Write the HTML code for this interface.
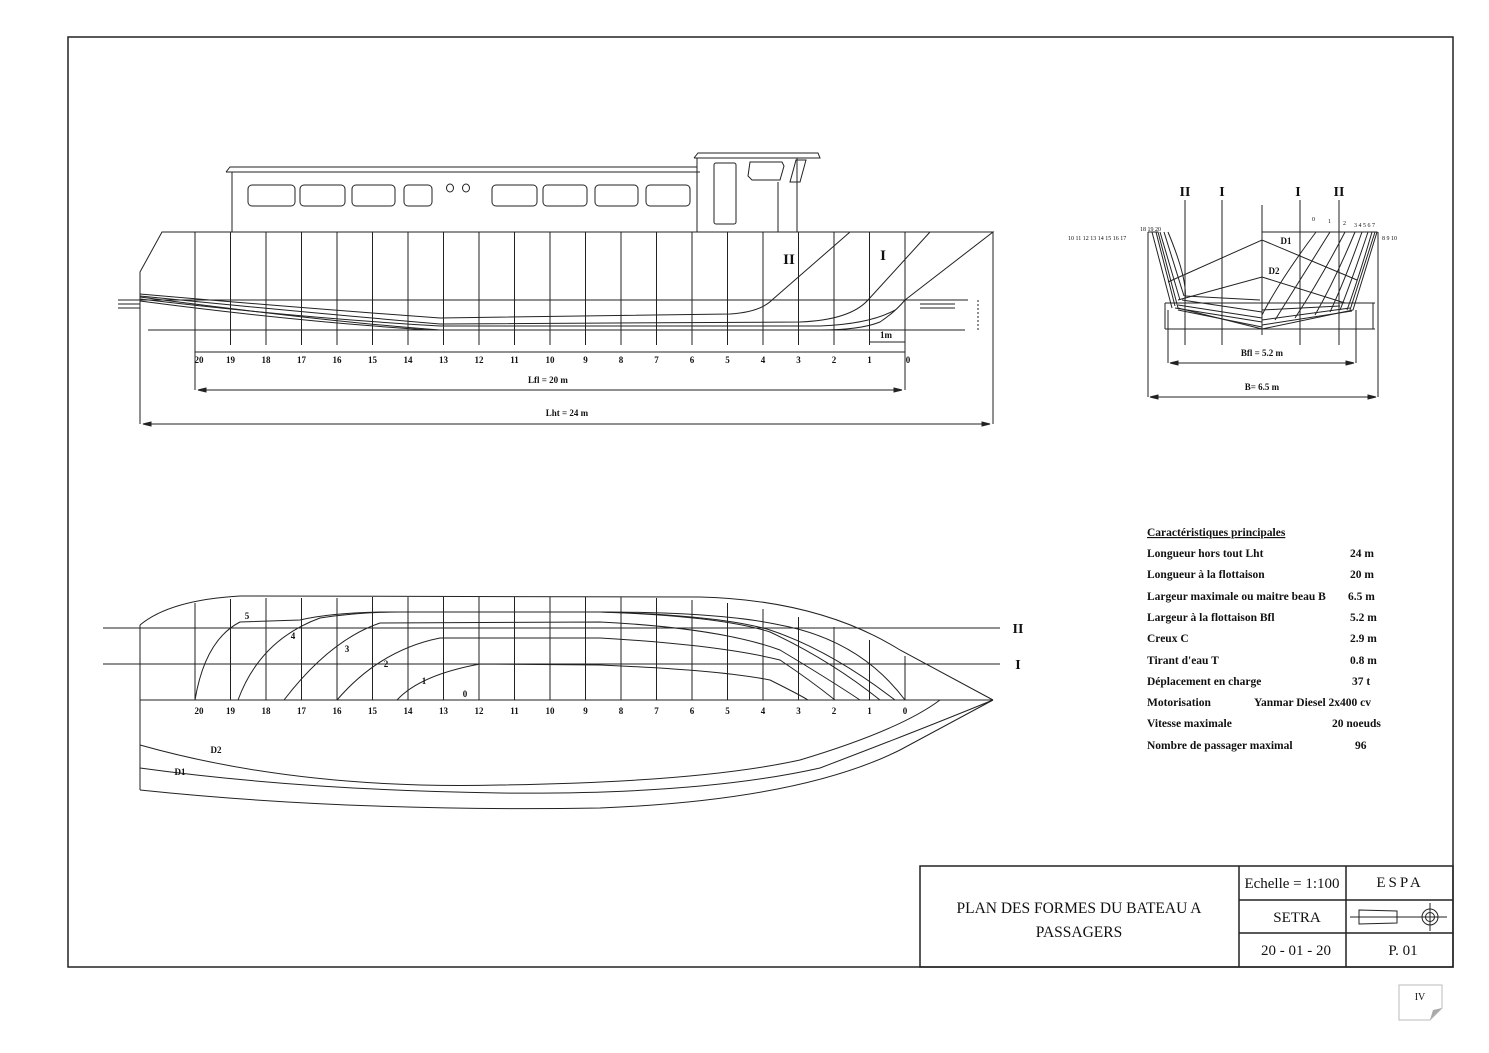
<!DOCTYPE html>
<html><head><meta charset="utf-8"><style>
html,body{margin:0;padding:0;background:#fff;}
svg{display:block;}
text{font-family:"Liberation Serif",serif;fill:#111;}
</style></head><body>
<svg width="1489" height="1053" viewBox="0 0 1489 1053" xmlns="http://www.w3.org/2000/svg">
<rect width="1489" height="1053" fill="#fff"/>
<rect x="68" y="37" width="1385" height="930" fill="none" stroke="#222" stroke-width="1.5"/>

<!-- PROFILE -->
<g fill="none" stroke="#222" stroke-width="1">
<path d="M226 172 L230 167 H697 M232 172 H697 V232 M232 172 V232 M226 172 H700"/>
<path d="M694 158 L698 153 H818 L820 158 H694 M697 158 V232 M797 158 V232 M778 182 V232"/>
<rect x="248" y="185" width="47" height="21" rx="4"/>
<rect x="300" y="185" width="45" height="21" rx="4"/>
<rect x="352" y="185" width="43" height="21" rx="4"/>
<rect x="404" y="185" width="28" height="21" rx="4"/>
<ellipse cx="450" cy="188" rx="3.5" ry="4"/>
<ellipse cx="466" cy="188" rx="3.5" ry="4"/>
<rect x="492" y="185" width="45" height="21" rx="4"/>
<rect x="543" y="185" width="44" height="21" rx="4"/>
<rect x="595" y="185" width="43" height="21" rx="4"/>
<rect x="646" y="185" width="44" height="21" rx="4"/>
<rect x="714" y="163" width="22" height="61" rx="2"/>
<path d="M750 162 H782 L784 166 L780 180 H752 L748 176 Z"/>
<path d="M796 160 H806 L800 182 H790 Z"/>
<path d="M140 292 V272 L162 232 H993 L905 300 M140 424 V292"/>
<path d="M993 232 V424"/>
<path d="M118 300 H968 M148 330 H965 M118 304 H140 M118 308 H140 M920 304 H955 M920 308 H955"/>
<path d="M905 232V345 M869.5 232V345 M834 232V345 M798.5 232V345 M763 232V345 M727.5 232V345 M692 232V345 M656.5 232V345 M621 232V345 M585.5 232V345 M550 232V345 M514.5 232V345 M479 232V345 M443.5 232V345 M408 232V345 M372.5 232V345 M337 232V345 M301.5 232V345 M266 232V345 M230.5 232V345 M195 232V390"/>
<path d="M905 300 V390"/>
<path d="M850 232 L772 300 Q760 312 730 314 L440 318 Q300 308 140 294"/>
<path d="M930 232 L868 300 Q850 320 800 322 L440 324 Q300 312 140 296"/>
<path d="M140 297 Q330 322 440 330 L820 330 Q860 330 880 322 Q895 312 905 300"/>
<path d="M140 299 Q300 318 440 326 L820 326 Q870 324 895 310"/>
<path d="M140 301 Q300 322 430 330"/>
<path d="M869.5 330 V342 M905 342 H869.5"/>
<path d="M195 352 H905"/>
<path d="M198 390 H902 M143 424 H990"/>
<path d="M198 390 l8 -2 v4 z M902 390 l-8 -2 v4 z M143 424 l8 -2 v4 z M990 424 l-8 -2 v4 z" fill="#222"/>
<path d="M978 300 V330" stroke-dasharray="2,2"/>
</g>
<g font-size="9" font-weight="bold" text-anchor="middle">
<text x="199" y="363">20</text><text x="230.5" y="363">19</text><text x="266" y="363">18</text><text x="301.5" y="363">17</text><text x="337" y="363">16</text><text x="372.5" y="363">15</text><text x="408" y="363">14</text><text x="443.5" y="363">13</text><text x="479" y="363">12</text><text x="514.5" y="363">11</text><text x="550" y="363">10</text><text x="585.5" y="363">9</text><text x="621" y="363">8</text><text x="656.5" y="363">7</text><text x="692" y="363">6</text><text x="727.5" y="363">5</text><text x="763" y="363">4</text><text x="798.5" y="363">3</text><text x="834" y="363">2</text><text x="869.5" y="363">1</text><text x="908" y="363">0</text>
<text x="548" y="383">Lfl = 20 m</text>
<text x="567" y="416">Lht = 24 m</text>
<text x="886" y="338">1m</text>
</g>
<text x="789" y="264" font-size="15" font-weight="bold" text-anchor="middle">II</text>
<text x="883" y="260" font-size="15" font-weight="bold" text-anchor="middle">I</text>

<!-- BODY PLAN -->
<g fill="none" stroke="#222" stroke-width="1">
<path d="M1148 232 H1158 L1178 308 L1262 329 L1353 310 L1377 232 H1368"/>
<path d="M1262 232 H1377 M1262 205 V335"/>
<path d="M1185 200 V345 M1222 200 V345 M1300 200 V345 M1339 200 V345"/>
<path d="M1165 303 H1375 M1165 329 H1375 M1165 303 V329 M1373 303 V329"/>
<path d="M1148 232 V397 M1378 232 V397 M1168 310 V363 M1356 310 V363"/>
<path d="M1170 363 H1354 M1150 397 H1376"/>
<path d="M1170 363 l8 -2 v4 z M1354 363 l-8 -2 v4 z M1150 397 l8 -2 v4 z M1376 397 l-8 -2 v4 z" fill="#222"/>
<path d="M1168 282 L1262 240 L1357 280"/>
<path d="M1178 300 L1262 277 L1345 303"/>
<path d="M1316 232 Q1280 280 1262 315 M1330 232 Q1300 280 1275 320 M1345 232 Q1320 280 1295 318 M1355 232 Q1335 280 1315 315 M1362 232 Q1345 280 1330 312 M1368 232 Q1352 280 1340 310 M1372 232 Q1358 280 1347 310 M1375 232 L1350 310"/>
<path d="M1262 320 L1350 308 M1262 325 L1352 311 M1262 310 L1340 306"/>
<path d="M1152 232 L1172 308 M1156 232 L1175 306 M1160 232 L1180 300 M1164 232 L1184 296 M1168 232 Q1188 280 1185 300"/>
<path d="M1175 308 L1262 322 M1178 305 L1262 318 M1182 300 L1262 312 M1185 296 L1260 300 M1178 310 L1262 327"/>
</g>
<g font-size="14" font-weight="bold" text-anchor="middle">
<text x="1185" y="196">II</text><text x="1222" y="196">I</text><text x="1298" y="196">I</text><text x="1339" y="196">II</text>
</g>
<g font-size="9" font-weight="bold" text-anchor="middle">
<text x="1286" y="244">D1</text><text x="1274" y="274">D2</text>
<text x="1262" y="356">Bfl = 5.2 m</text>
<text x="1262" y="390">B= 6.5 m</text>
</g>
<g font-size="6">
<text x="1068" y="240">10 11 12 13 14 15 16 17</text>
<text x="1140" y="231">18 19 20</text>
<text x="1312" y="221">0</text><text x="1328" y="223">1</text><text x="1343" y="225">2</text><text x="1354" y="227">3 4 5 6 7</text>
<text x="1382" y="240">8 9 10</text>
</g>

<!-- PLAN VIEW -->
<g fill="none" stroke="#222" stroke-width="1">
<path d="M140 625 Q170 600 240 596 L700 597 Q820 600 900 650 L993 700"/>
<path d="M140 625 V790 M140 700 H993"/>
<path d="M103 628 H1000 M103 664 H1000"/>
<path d="M905 656V700 M869.5 640V700 M834 627V700 M798.5 617V700 M763 609V700 M727.5 603V700 M692 600V700 M656.5 598V700 M621 597V700 M585.5 597V700 M550 597V700 M514.5 597V700 M479 597V700 M443.5 597V700 M408 597V700 M372.5 597V700 M337 598V700 M301.5 598V700 M266 598V700 M230.5 599V700 M195 603V700"/>
<path d="M195 700 Q205 640 240 622 L300 620 Q330 613 380 612 L600 612 Q720 615 770 630 Q830 650 895 700"/>
<path d="M238 700 Q260 640 320 618 Q360 612 400 612 L600 612 Q720 616 770 632 Q830 660 880 700"/>
<path d="M284 700 Q330 640 380 623 L600 622 Q720 628 780 650 Q830 680 860 700"/>
<path d="M337 700 Q380 650 440 638 L600 638 Q720 645 780 660 Q810 680 835 700"/>
<path d="M397 700 Q420 675 480 664 L600 665 Q720 670 770 680 Q800 695 808 700"/>
<path d="M905 700 Q860 640 780 625 Q720 612 600 612"/>
<path d="M140 745 Q300 790 500 785 Q700 782 800 760 Q900 730 940 700"/>
<path d="M140 768 Q300 790 500 793 Q700 795 820 768 Q920 730 993 700"/>
<path d="M140 790 Q350 812 600 808 Q800 800 900 750 L993 700"/>
</g>
<g font-size="9" font-weight="bold" text-anchor="middle">
<text x="199" y="714">20</text><text x="230.5" y="714">19</text><text x="266" y="714">18</text><text x="301.5" y="714">17</text><text x="337" y="714">16</text><text x="372.5" y="714">15</text><text x="408" y="714">14</text><text x="443.5" y="714">13</text><text x="479" y="714">12</text><text x="514.5" y="714">11</text><text x="550" y="714">10</text><text x="585.5" y="714">9</text><text x="621" y="714">8</text><text x="656.5" y="714">7</text><text x="692" y="714">6</text><text x="727.5" y="714">5</text><text x="763" y="714">4</text><text x="798.5" y="714">3</text><text x="834" y="714">2</text><text x="869.5" y="714">1</text><text x="905" y="714">0</text>
<text x="247" y="619">5</text><text x="293" y="639">4</text><text x="347" y="652">3</text><text x="386" y="667">2</text><text x="424" y="684">1</text><text x="465" y="697">0</text>
<text x="216" y="753">D2</text><text x="180" y="775">D1</text>
</g>
<text x="1018" y="633" font-size="14" font-weight="bold" text-anchor="middle">II</text>
<text x="1018" y="669" font-size="14" font-weight="bold" text-anchor="middle">I</text>

<!-- SPECS -->
<g font-size="11.5" font-weight="bold" fill="#222">
<text x="1147" y="536" text-decoration="underline">Caractéristiques principales</text>
<text x="1147" y="557">Longueur hors tout Lht</text><text x="1350" y="557">24 m</text>
<text x="1147" y="578">Longueur à la flottaison</text><text x="1350" y="578">20 m</text>
<text x="1147" y="600">Largeur maximale ou maitre beau B</text><text x="1348" y="600">6.5 m</text>
<text x="1147" y="621">Largeur à la flottaison Bfl</text><text x="1350" y="621">5.2 m</text>
<text x="1147" y="642">Creux C</text><text x="1350" y="642">2.9 m</text>
<text x="1147" y="664">Tirant d'eau T</text><text x="1350" y="664">0.8 m</text>
<text x="1147" y="685">Déplacement en charge</text><text x="1352" y="685">37 t</text>
<text x="1147" y="706">Motorisation</text><text x="1254" y="706">Yanmar Diesel 2x400 cv</text>
<text x="1147" y="727">Vitesse maximale</text><text x="1332" y="727">20 noeuds</text>
<text x="1147" y="749">Nombre de passager maximal</text><text x="1355" y="749">96</text>
</g>

<!-- TITLE BLOCK -->
<g fill="none" stroke="#222" stroke-width="1.5">
<rect x="920" y="866" width="533" height="101"/>
<path d="M1239 866 V967 M1346 866 V967 M1239 900 H1453 M1239 933 H1453"/>
</g>
<g fill="none" stroke="#222" stroke-width="1">
<path d="M1350 917 H1447 M1359 910 L1397 911 V923 L1359 924 Z M1430 903 V931"/>
<circle cx="1430" cy="917" r="8"/><circle cx="1430" cy="917" r="4.5"/>
</g>
<g font-size="15.5" text-anchor="middle">
<text x="1079" y="913">PLAN DES FORMES DU BATEAU A</text>
<text x="1079" y="937">PASSAGERS</text>
</g>
<g font-size="15" text-anchor="middle">
<text x="1292" y="888">Echelle = 1:100</text>
<text x="1400" y="887" letter-spacing="3">ESPA</text>
<text x="1297" y="922">SETRA</text>
<text x="1296" y="955">20 - 01 - 20</text>
<text x="1403" y="955">P. 01</text>
</g>
<path d="M1399 985 H1442 V1008 L1430 1020 H1399 Z" fill="#fff" stroke="#bbb" stroke-width="1"/>
<path d="M1430 1020 L1442 1008 L1433 1010 Z" fill="#aaa"/>
<text x="1420" y="1000" font-size="10" text-anchor="middle">IV</text>
</svg>
</body></html>
